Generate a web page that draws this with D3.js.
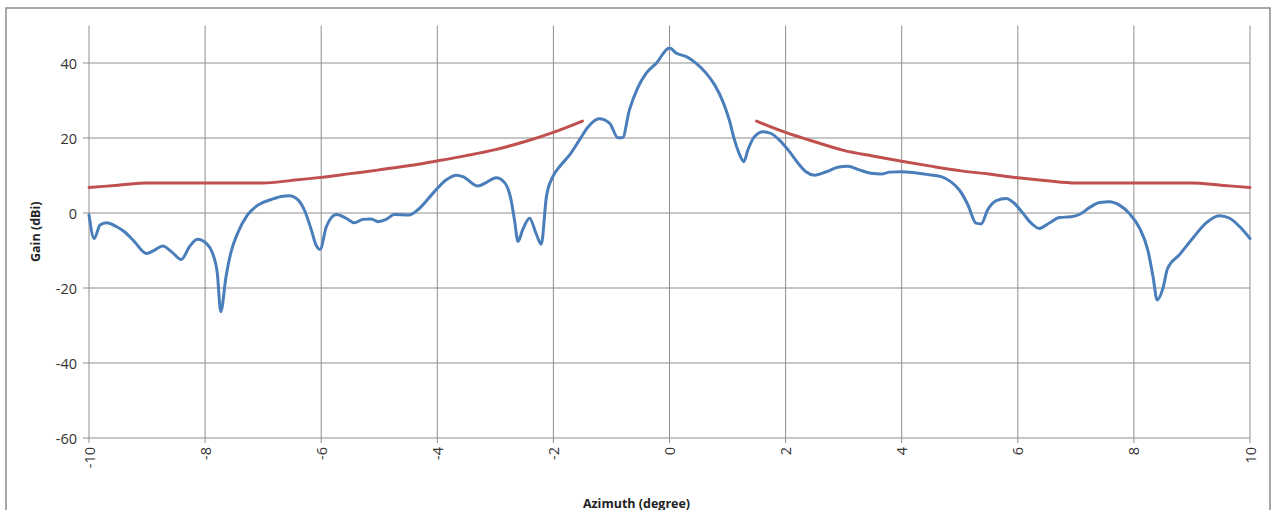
<!DOCTYPE html>
<html>
<head>
<meta charset="utf-8">
<script src="https://cdn.jsdelivr.net/npm/d3@7"></script>
<style>
  html, body { margin: 0; padding: 0; background: #fff; }
  svg { display: block; }
  text { font-family: "Open Sans", "Liberation Sans", sans-serif; }
</style>
</head>
<body>
<svg id="chart" width="1274" height="510"></svg>
<script>
// ---- Data ----
const xTicks = [-10, -8, -6, -4, -2, 0, 2, 4, 6, 8, 10];
const yTicks = [-60, -40, -20, 0, 20, 40];

const gainAzimuth = [
  -10.00, -9.91, -9.81, -9.70, -9.53, -9.39, -9.22, -9.01, -8.87, -8.73,
  -8.58, -8.41, -8.27, -8.13, -7.98, -7.87, -7.79, -7.73, -7.64, -7.56,
  -7.44, -7.27, -7.09, -6.86, -6.69, -6.55, -6.40, -6.29, -6.17, -6.09,
  -6.02, -5.91, -5.74, -5.57, -5.43, -5.28, -5.14, -5.02, -4.88, -4.74,
  -4.48, -4.31, -4.05, -3.85, -3.67, -3.56, -3.30, -3.16, -2.99, -2.84,
  -2.73, -2.67, -2.61, -2.53, -2.41, -2.30, -2.21, -2.12, -2.01, -1.87,
  -1.72, -1.55, -1.41, -1.21, -1.03, -0.89, -0.81, -0.69, -0.55, -0.40,
  -0.23, 0.00, 0.12, 0.29, 0.46, 0.63, 0.78, 0.92, 1.03, 1.12,
  1.21, 1.28, 1.35, 1.46, 1.61, 1.75, 1.89, 2.07, 2.24, 2.35,
  2.50, 2.70, 2.90, 3.07, 3.27, 3.47, 3.65, 3.79, 3.99, 4.19,
  4.42, 4.68, 4.85, 5.00, 5.14, 5.28, 5.37, 5.48, 5.63, 5.80,
  5.94, 6.09, 6.23, 6.37, 6.55, 6.72, 6.92, 7.06, 7.24, 7.41,
  7.58, 7.75, 7.92, 8.10, 8.24, 8.33, 8.40, 8.50, 8.58, 8.78,
  9.01, 9.24, 9.47, 9.65, 9.82, 10.00
];
const gainValues = [
  -0.5, -6.8, -3.2, -2.6, -3.6, -5.0, -7.6, -10.8, -9.9, -8.8,
  -10.3, -12.4, -9.0, -7.0, -8.1, -10.8, -16.0, -26.3, -17.0, -10.8,
  -5.4, -0.5, 2.1, 3.6, 4.4, 4.6, 3.5, 0.8, -4.5, -8.5,
  -9.7, -3.6, -0.4, -1.4, -2.6, -1.7, -1.6, -2.3, -1.7, -0.4,
  -0.5, 1.2, 5.7, 8.8, 10.1, 9.7, 7.2, 8.1, 9.4, 8.1,
  3.5, -1.9, -7.6, -4.5, -1.4, -5.4, -8.3, 4.4, 9.7, 12.8,
  15.5, 19.5, 22.8, 25.1, 23.9, 20.1, 20.1, 27.5, 33.3, 37.3,
  39.9, 44.0, 42.6, 41.7, 39.9, 37.3, 34.1, 29.7, 24.8, 19.5,
  15.5, 13.7, 16.8, 20.3, 21.7, 21.2, 19.5, 16.3, 12.8, 11.0,
  10.1, 11.0, 12.2, 12.5, 11.5, 10.6, 10.4, 10.9, 11.0, 10.8,
  10.3, 9.7, 8.3, 6.0, 2.2, -2.7, -2.9, 0.8, 3.3, 3.9,
  2.6, -0.1, -2.7, -4.1, -2.6, -1.2, -1.0, -0.4, 1.5, 2.8,
  3.0, 2.1, -0.1, -4.1, -9.9, -17.0, -23.2, -20.1, -14.8, -11.2,
  -6.8, -2.7, -0.7, -1.4, -3.6, -6.8
];

const maskLeftAzimuth = [-10, -9.5, -9, -8, -7, -6.5, -6, -5.5, -5, -4.5, -4, -3.5, -3, -2.5, -2, -1.5];
const maskLeftValues  = [6.8, 7.4, 8.0, 8.0, 8.0, 8.7, 9.5, 10.5, 11.5, 12.6, 13.9, 15.3, 16.9, 19.0, 21.5, 24.5];
const maskRightAzimuth = [1.5, 2, 2.5, 3, 3.5, 4, 4.5, 5, 5.5, 6, 6.5, 7, 8, 9, 9.5, 10];
const maskRightValues  = [24.5, 21.5, 19.0, 16.7, 15.2, 13.8, 12.5, 11.3, 10.4, 9.4, 8.6, 8.0, 8.0, 8.0, 7.4, 6.8];

// ---- Layout ----
const svg = d3.select("#chart");
const plotLeft = 89, plotRight = 1250, plotTop = 25.5, plotBottom = 438;

const x = d3.scaleLinear().domain([-10, 10]).range([plotLeft, plotRight]);
const y = d3.scaleLinear().domain([-60, 50]).range([plotBottom, plotTop]);

// outer border
svg.append("rect")
  .attr("x", 6).attr("y", 8).attr("width", 1264).attr("height", 520)
  .attr("fill", "none").attr("stroke", "#8a8a8a").attr("stroke-width", 1.5);

// horizontal gridlines (with left tick extension)
svg.append("g").selectAll("line").data(yTicks).join("line")
  .attr("x1", plotLeft - 6).attr("x2", plotRight)
  .attr("y1", d => y(d)).attr("y2", d => y(d))
  .attr("stroke", "#8f8f8f").attr("stroke-width", 1);

// vertical gridlines (with bottom tick extension)
svg.append("g").selectAll("line").data(xTicks).join("line")
  .attr("x1", d => x(d)).attr("x2", d => x(d))
  .attr("y1", plotTop).attr("y2", plotBottom + 5)
  .attr("stroke", "#8f8f8f").attr("stroke-width", 1);

// y tick labels
svg.append("g").selectAll("text").data(yTicks).join("text")
  .attr("x", 77).attr("y", d => y(d))
  .attr("text-anchor", "end").attr("dominant-baseline", "central")
  .attr("font-size", 14.5).attr("fill", "#333")
  .text(d => d);

// x tick labels (rotated)
svg.append("g").selectAll("text").data(xTicks).join("text")
  .attr("transform", d => `translate(${x(d)},${plotBottom + 9}) rotate(-90)`)
  .attr("text-anchor", "end").attr("dominant-baseline", "central")
  .attr("font-size", 14.5).attr("fill", "#333")
  .text(d => d);

// axis titles
svg.append("text")
  .attr("x", (plotLeft + plotRight) / 2 - 33).attr("y", 503)
  .attr("text-anchor", "middle").attr("dominant-baseline", "central")
  .attr("font-size", 12.5).attr("font-weight", "bold").attr("fill", "#222")
  .text("Azimuth (degree)");

svg.append("text")
  .attr("transform", `translate(35,${(plotTop + plotBottom) / 2}) rotate(-90)`)
  .attr("text-anchor", "middle").attr("dominant-baseline", "central")
  .attr("font-size", 12.5).attr("font-weight", "bold").attr("fill", "#222")
  .text("Gain (dBi)");

// lines
const smoothLine = d3.line().x(d => x(d[0])).y(d => y(d[1])).curve(d3.curveMonotoneX);

const maskL = d3.zip(maskLeftAzimuth, maskLeftValues);
const maskR = d3.zip(maskRightAzimuth, maskRightValues);
const gain = d3.zip(gainAzimuth, gainValues);

[maskL, maskR].forEach(m => {
  svg.append("path").datum(m)
    .attr("d", smoothLine)
    .attr("fill", "none").attr("stroke", "#c0504d").attr("stroke-width", 3)
    .attr("stroke-linejoin", "round").attr("stroke-linecap", "round");
});

svg.append("path").datum(gain)
  .attr("d", smoothLine)
  .attr("fill", "none").attr("stroke", "#4a7ebb").attr("stroke-width", 3)
  .attr("stroke-linejoin", "round").attr("stroke-linecap", "round");
</script>
</body>
</html>
